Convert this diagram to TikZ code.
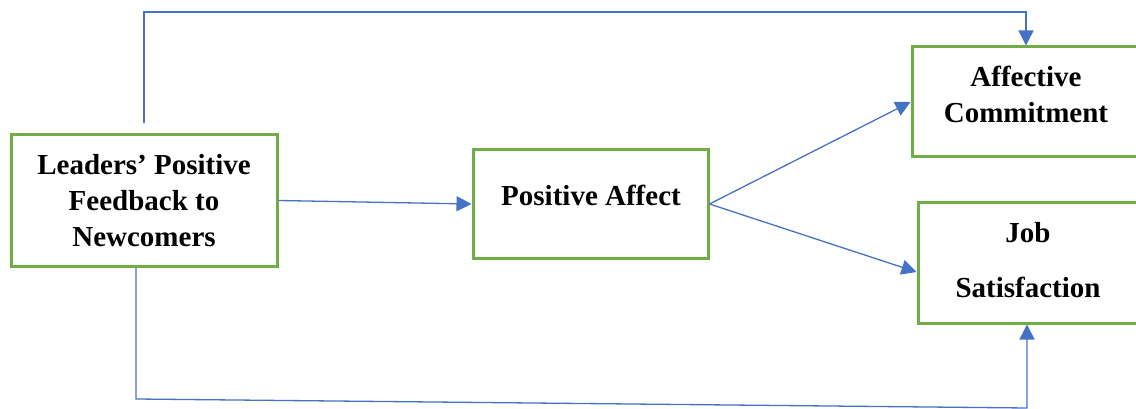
\documentclass[tikz,border=0pt]{standalone}
\usepackage{fontspec}
\setmainfont{Liberation Serif}
\usetikzlibrary{arrows.meta,calc}
\definecolor{boxgreen}{HTML}{70AD47}
\definecolor{lineblue}{HTML}{4472C4}
\tikzset{
  box/.style={draw=boxgreen, line width=3pt, fill=white, inner sep=0pt},
  lbl/.style={font=\bfseries\fontsize{29}{36}\selectfont, align=center, inner sep=0pt},
  conn/.style={draw=lineblue, line width=1.3pt},
  arr/.style={conn, -{Triangle[length=15pt,width=15pt]}}
}
\begin{document}
\begin{tikzpicture}[x=1pt,y=-1pt]
\useasboundingbox (0,0) rectangle (1136,409);
\clip (0,0) rectangle (1136,409);
% boxes
\node[box, minimum width=266pt, minimum height=131pt] (L) at (144,200.5) {};
\node[box, minimum width=235pt, minimum height=108pt] (M) at (590.5,204) {};
\node[box, minimum width=248pt, minimum height=110pt] (TR) at (1036,102) {};
\node[box, minimum width=242pt, minimum height=120pt] (BR) at (1039,263) {};
% texts
\node[lbl] (Lt) at (144,201) {Leaders’ Positive\\Feedback to\\Newcomers};
\node[lbl] (Mt) at (591,195) {Positive Affect};
\node[lbl] (TRt) at (1026,94.5) {Affective\\Commitment};
\node[lbl, font=\bfseries\fontsize{29}{55}\selectfont] (BRt) at (1028,260) {Job\\Satisfaction};
% coordinates
\coordinate (t0) at (144,123);
\coordinate (t1) at (144,12);
\coordinate (t2) at (1026,12);
\coordinate (b0) at (136,268);
\coordinate (b1) at (136,399);
\coordinate (b2) at (1027,408);
% connectors
\draw[arr] (t0) -- (t1) -- (t2) -- (t2 |- TR.north);
\draw[arr] (b0) -- (b1) -- (b2) -- (b2 |- BR.south);
\draw[arr] (L.east) -- (M.west);
\draw[arr] (M.east) -- (TR.west);
\draw[arr] (M.east) -- ([yshift=-9pt]BR.west);
\end{tikzpicture}
\end{document}
